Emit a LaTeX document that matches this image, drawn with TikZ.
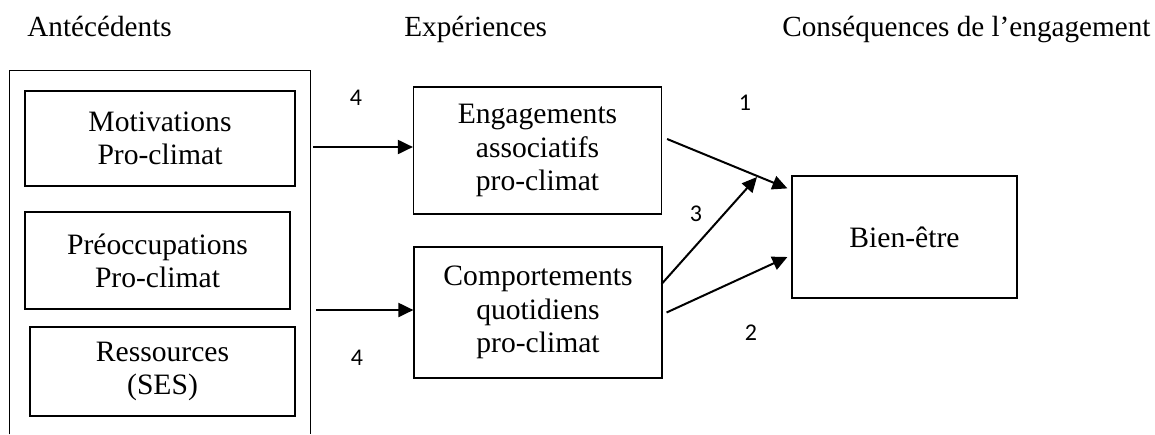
\documentclass[tikz,border=0pt]{standalone}
\usepackage{fontspec}
\setmainfont{Liberation Serif}
\newfontfamily\numfont{Carlito}
\usepackage{tikz}
\usetikzlibrary{arrows.meta,positioning,calc}

\begin{document}
\begin{tikzpicture}[x=0.5pt, y=-0.5pt]
\tikzstyle{main}=[rectangle, draw=black, line width=0.6pt, inner sep=0pt, align=center, font=\fontsize{14.8}{16.6}\selectfont]
\tikzstyle{left}=[main, minimum width=132.5pt]
\tikzstyle{mid}=[main, minimum width=124pt]
\tikzstyle{head}=[anchor=base west, inner sep=0pt, font=\fontsize{14.6}{16.5}\selectfont]
\tikzstyle{num}=[inner sep=0pt, font=\numfont\fontsize{12}{14}\selectfont]
\tikzstyle{connect}=[-{Triangle[length=7.5pt, width=7pt]}, line width=1pt]

  \useasboundingbox (0,0) rectangle (1155,434);

  % titles
  \node[head] (tante) at (27,36)  {Antécédents};
  \node[head] (texp)  at (404,36) {Expériences};
  \node[head] (tcons) at (782,36) {Conséquences de l’engagement};

  % antecedents
  \node[inner sep=0pt, minimum width=150pt, minimum height=181.5pt] (ante) at (160,252.5) {};
  \draw[line width=0.6pt] (ante.south west) -- (ante.north west) -- (ante.north east) -- (ante.south east);

  \node[main, minimum width=135pt, minimum height=47.5pt] (motiv) at (160,138.5)   {Motivations\\Pro-climat};
  \node[main, minimum width=132.5pt, minimum height=48.5pt] (preoc) at (157.5,260.5) {Préoccupations\\Pro-climat};
  \node[main, minimum width=132.5pt, minimum height=44.5pt] (ress)  at (162.5,371.5) {Ressources\\(SES)};

  % experiences
  \node[mid, minimum height=63.5pt] (engag) at (537.5,150.5) {Engagements\\associatifs\\pro-climat};
  \node[mid, minimum height=65.5pt] (compo) at (538,312.5)   {Comportements\\quotidiens\\pro-climat};

  % consequences
  \node[main, minimum width=112.5pt, minimum height=61pt] (bien) at (904.5,237) {Bien-être};

  \coordinate (meet) at (757,177);

  \draw[connect] ($(ante.east |- engag.west)+(3,-3.5)$) -- ($(engag.west)+(0,-3.5)$);
  \draw[connect] ($(ante.east |- compo.west)+(6,-2.5)$) -- ($(compo.west)+(0,-2.5)$);
  \draw[connect] ($(engag.east)+(5,-11.5)$) -- ($(bien.north west)+(-4,13)$);
  \draw[connect] ($(compo.east)+(-1,-28.5)$) -- (meet);
  \draw[connect] ($(compo.east)+(4,0)$) -- ($(bien.west)+(-4,20)$);

  \node[num] (n4a) at (356,98)  {4};
  \node[num] (n4b) at (357,358) {4};
  \node[num] (n1)  at (745,103) {1};
  \node[num] (n3)  at (696,214) {3};
  \node[num] (n2)  at (751,333) {2};

\end{tikzpicture}
\end{document}
